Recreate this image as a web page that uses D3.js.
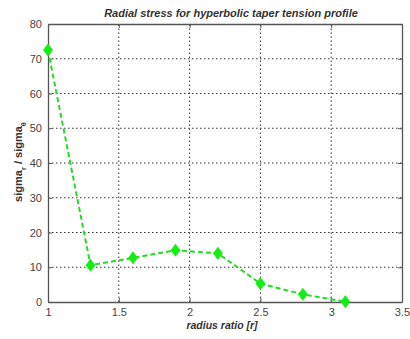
<!DOCTYPE html>
<html>
<head>
<meta charset="utf-8">
<script src="https://cdn.jsdelivr.net/npm/d3@7"></script>
<style>
  html, body { margin: 0; padding: 0; background: #fff; }
  svg { display: block; font-family: Arial, "Liberation Sans", sans-serif; }
</style>
</head>
<body>
<svg id="chart" width="410" height="339"></svg>
<script>
// Radius ratio samples and the normalised radial stress at each one
const radiusRatio = [1.0, 1.3, 1.6, 1.9, 2.2, 2.5, 2.8, 3.1];
const stressRatio = [72.5, 10.6, 12.7, 14.9, 14.0, 5.3, 2.2, 0.1];
const xTicks = [1, 1.5, 2, 2.5, 3, 3.5];
const yTicks = [0, 10, 20, 30, 40, 50, 60, 70, 80];

const svg = d3.select("#chart");
const margin = { left: 48, right: 8, top: 24, bottom: 37 };
const W = 410, H = 339;

const x = d3.scaleLinear().domain([1, 3.5]).range([margin.left, W - margin.right]);
const y = d3.scaleLinear().domain([0, 80]).range([H - margin.bottom, margin.top]);

const plot = svg.append("g");

// dotted grid
plot.append("g")
  .selectAll("line.gx")
  .data(xTicks.slice(1, -1))
  .join("line")
  .attr("x1", d => x(d)).attr("x2", d => x(d))
  .attr("y1", y(0)).attr("y2", y(80))
  .attr("stroke", "#333").attr("stroke-width", 1)
  .attr("stroke-dasharray", "1.5,2.5");

plot.append("g")
  .selectAll("line.gy")
  .data(yTicks.slice(1, -1))
  .join("line")
  .attr("x1", x(1)).attr("x2", x(3.5))
  .attr("y1", d => y(d)).attr("y2", d => y(d))
  .attr("stroke", "#333").attr("stroke-width", 1)
  .attr("stroke-dasharray", "1.5,2.5");

// axes with inward ticks
const gx = plot.append("g")
  .attr("transform", `translate(0,${y(0)})`)
  .call(d3.axisBottom(x).tickValues(xTicks).tickFormat(d3.format("")).tickSizeInner(-4).tickSizeOuter(0).tickPadding(6));
const gy = plot.append("g")
  .attr("transform", `translate(${x(1)},0)`)
  .call(d3.axisLeft(y).tickValues(yTicks).tickSizeInner(-4).tickSizeOuter(0).tickPadding(6));
const gxTop = plot.append("g")
  .attr("transform", `translate(0,${y(80)})`)
  .call(d3.axisTop(x).tickValues(xTicks).tickFormat("").tickSizeInner(-4).tickSizeOuter(0));
const gyRight = plot.append("g")
  .attr("transform", `translate(${x(3.5)},0)`)
  .call(d3.axisRight(y).tickValues(yTicks).tickFormat("").tickSizeInner(-4).tickSizeOuter(0));

[gx, gy, gxTop, gyRight].forEach(g => {
  g.selectAll("path.domain").attr("stroke", "#555").attr("stroke-width", 1.3);
  g.selectAll(".tick line").attr("stroke", "#555");
  g.selectAll("text").attr("fill", "#444").attr("font-size", 11)
    .attr("font-family", "'Liberation Sans Narrow', Arial, 'Liberation Sans', sans-serif");
});

// series line
const line = d3.line().x((d, i) => x(radiusRatio[i])).y(d => y(d));
plot.append("path")
  .datum(stressRatio)
  .attr("d", line)
  .attr("fill", "none")
  .attr("stroke", "#22dd22")
  .attr("stroke-width", 2)
  .attr("stroke-dasharray", "5,3");

// diamond markers
plot.append("g")
  .selectAll("path.m")
  .data(stressRatio)
  .join("path")
  .attr("transform", (d, i) => `translate(${x(radiusRatio[i])},${y(d)})`)
  .attr("d", "M0,-6 L4.5,0 L0,6 L-4.5,0 Z")
  .attr("fill", "#11ee11")
  .attr("stroke", "#11ee11")
  .attr("stroke-width", 0.8);

// title
svg.append("text")
  .attr("x", (x(1) + x(3.5)) / 2 + 6).attr("y", 17)
  .attr("text-anchor", "middle")
  .attr("font-size", 11).attr("font-weight", "bold").attr("font-style", "italic")
  .attr("fill", "#333")
  .text("Radial stress for hyperbolic taper tension profile");

// x label
svg.append("text")
  .attr("x", 222).attr("y", 329)
  .attr("text-anchor", "middle")
  .attr("font-size", 10.5).attr("font-weight", "bold").attr("font-style", "italic")
  .attr("fill", "#333")
  .text("radius ratio [r]");

// y label with subscripts
const yl = svg.append("text")
  .attr("transform", `translate(22,162) rotate(-90)`)
  .attr("text-anchor", "middle")
  .attr("font-size", 11).attr("font-weight", "bold")
  .attr("fill", "#333");
yl.append("tspan").text("sigma");
yl.append("tspan").attr("font-size", 7.5).attr("dy", 4).text("r");
yl.append("tspan").attr("dy", -4).text(" / sigma");
yl.append("tspan").attr("font-size", 7.5).attr("dy", 4).text("θ");
</script>
</body>
</html>
